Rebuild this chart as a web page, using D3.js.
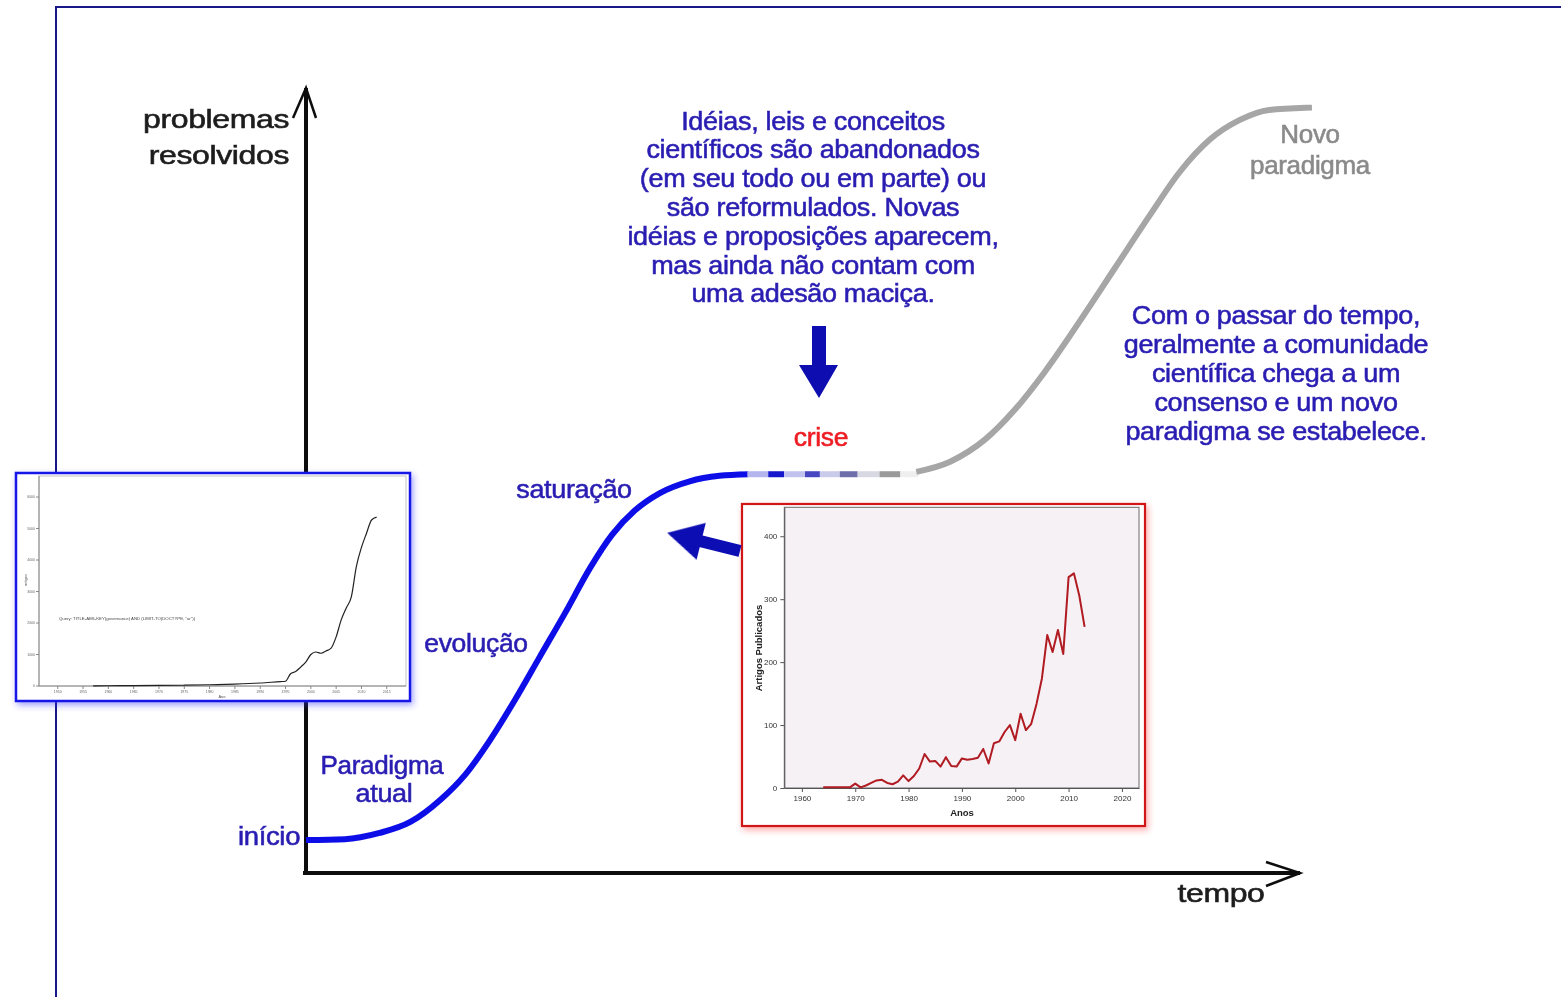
<!DOCTYPE html>
<html><head><meta charset="utf-8">
<script src="https://cdn.jsdelivr.net/npm/d3@7/dist/d3.min.js"></script>
<style>html,body{margin:0;padding:0;background:#fff;overflow:hidden}svg{display:block}text{font-family:"Liberation Sans",Arial,sans-serif}</style>
</head><body>
<script>
// ---------- DATA ----------
// conceptual S-curve (tempo 0-100, problemas resolvidos 0-100)
const paradigmT = [0, 3.9, 7.4, 10.5, 13.5, 16.0, 18.5, 21.0, 23.5, 26.1, 28.6, 30.8, 33.1, 35.6, 38.6, 41.6, 44.5];
const paradigmP = [4.2, 4.3, 5.1, 6.5, 9.3, 12.5, 16.9, 22.0, 27.5, 33.2, 38.9, 43.1, 46.2, 48.4, 49.9, 50.6, 50.8];
const crisisStops = [44.4, 46.5, 48.1, 50.2, 51.7, 53.7, 55.5, 57.7, 59.8, 61.6];
const crisisLevel = 50.8;
const crisisColors = ["#b4b4ee", "#1818cc", "#c2c2ee", "#4646c2", "#cacaea", "#6e6eaa", "#d8d8e2", "#9a9a9a", "#efefef"];
const novoT = [61.4, 64.8, 68.3, 71.3, 74.3, 77.9, 81.4, 84.9, 87.9, 90.9, 93.9, 96.9, 101.2];
const novoP = [51.1, 52.4, 55.2, 59.0, 63.8, 70.4, 77.1, 83.8, 89.3, 93.4, 95.9, 97.2, 97.5];

const axisLabelY = ["problemas", "resolvidos"];
const axisLabelX = "tempo";
const crisisText = ["Idéias, leis e conceitos", "científicos são abandonados", "(em seu todo ou em parte) ou", "são reformulados. Novas", "idéias e proposições aparecem,", "mas ainda não contam com", "uma adesão maciça."];
const consensusText = ["Com o passar do tempo,", "geralmente a comunidade", "científica chega a um", "consenso e um novo", "paradigma se estabelece."];
const novoText = ["Novo", "paradigma"];

// left inset (Scopus query)
const govYears = [1957, 1960, 1965, 1970, 1975, 1980, 1985, 1990, 1994, 1995, 1996, 1997, 1998, 1999, 2000, 2001, 2002, 2003, 2004, 2005, 2006, 2007, 2008, 2009, 2010, 2011, 2012, 2013];
const govCounts = [5, 8, 12, 18, 25, 40, 60, 95, 140, 150, 390, 460, 600, 760, 1000, 1080, 1040, 1110, 1200, 1560, 2100, 2480, 2830, 3800, 4400, 4850, 5270, 5360];
const govXTicks = [1950, 1955, 1960, 1965, 1970, 1975, 1980, 1985, 1990, 1995, 2000, 2005, 2010, 2015];
const govYTicks = [0, 1000, 2000, 3000, 4000, 5000, 6000];
const govQuery = 'Query: TITLE-ABS-KEY(governance) AND (LIMIT-TO(DOCTYPE, "ar"))';

// right inset (Artigos Publicados)
const artYears = [1964, 1965, 1966, 1967, 1968, 1969, 1970, 1971, 1972, 1973, 1974, 1975, 1976, 1977, 1978, 1979, 1980, 1981, 1982, 1983, 1984, 1985, 1986, 1987, 1988, 1989, 1990, 1991, 1992, 1993, 1994, 1995, 1996, 1997, 1998, 1999, 2000, 2001, 2002, 2003, 2004, 2005, 2006, 2007, 2008, 2009, 2010, 2011, 2012, 2013];
const artCounts = [1, 1, 1, 1, 1, 1, 7, 1, 4, 8, 12, 13, 8, 6, 10, 20, 11, 19, 31, 54, 42, 43, 34, 49, 35, 34, 47, 45, 46, 48, 62, 39, 71, 74, 89, 100, 76, 118, 92, 102, 134, 174, 243, 216, 251, 213, 335, 341, 306, 256];
const artXTicks = [1960, 1970, 1980, 1990, 2000, 2010, 2020];
const artYTicks = [0, 100, 200, 300, 400];

// ---------- DRAW ----------
const W = 1561, H = 997;
const svg = d3.select("body").append("svg").attr("width", W).attr("height", H);
const defs = svg.append("defs");
const sh1 = defs.append("filter").attr("id", "shBlue").attr("x", "-10%").attr("y", "-10%").attr("width", "120%").attr("height", "120%");
sh1.append("feDropShadow").attr("dx", 2).attr("dy", 3).attr("stdDeviation", 3).attr("flood-color", "#3030ff").attr("flood-opacity", 0.45);
const sh2 = defs.append("filter").attr("id", "shRed").attr("x", "-10%").attr("y", "-10%").attr("width", "120%").attr("height", "120%");
sh2.append("feDropShadow").attr("dx", 2).attr("dy", 3).attr("stdDeviation", 3).attr("flood-color", "#ff3030").attr("flood-opacity", 0.4);
const soft = defs.append("filter").attr("id", "soft");
soft.append("feGaussianBlur").attr("stdDeviation", 0.5);

// outer frame
svg.append("path").attr("d", "M56,997 V7 H1561").attr("fill", "none").attr("stroke", "#17178a").attr("stroke-width", 2);

const x = d3.scaleLinear().domain([0, 100]).range([306, 1300]);
const y = d3.scaleLinear().domain([0, 100]).range([873, 88]);

const main = svg.append("g").attr("filter", "url(#soft)");
// axes
main.append("line").attr("x1", x(0)).attr("x2", x(0)).attr("y1", y(0) + 2).attr("y2", y(100))
  .attr("stroke", "#111").attr("stroke-width", 4);
main.append("line").attr("x1", x(0) - 3).attr("x2", x(100)).attr("y1", y(0)).attr("y2", y(0))
  .attr("stroke", "#111").attr("stroke-width", 4);
main.append("path").attr("d", `M${x(0) - 13},${y(100) + 30} L${x(0)},${y(100)} L${x(0) + 10},${y(100) + 30}`)
  .attr("fill", "none").attr("stroke", "#111").attr("stroke-width", 2.5);
main.append("path").attr("d", `M${x(100) - 34},${y(0) - 11} L${x(100)},${y(0)} L${x(100) - 34},${y(0) + 13}`)
  .attr("fill", "none").attr("stroke", "#111").attr("stroke-width", 2.5);

const line = d3.line().x(d => x(d[0])).y(d => y(d[1])).curve(d3.curveMonotoneX);
main.append("path").datum(paradigmT.map((t, i) => [t, paradigmP[i]])).attr("d", line)
  .attr("fill", "none").attr("stroke", "#0c0ce8").attr("stroke-width", 6);
crisisColors.forEach((c, i) => {
  main.append("line").attr("x1", x(crisisStops[i])).attr("x2", x(crisisStops[i + 1]))
    .attr("y1", y(crisisLevel)).attr("y2", y(crisisLevel)).attr("stroke", c).attr("stroke-width", 6);
});
main.append("path").datum(novoT.map((t, i) => [t, novoP[i]])).attr("d", line)
  .attr("fill", "none").attr("stroke", "#a6a6a6").attr("stroke-width", 6);

// text helper
function txt(g, s, cx, cy, size, sx, fill, anchor, weight) {
  g.append("text").attr("transform", `translate(${cx},${cy}) scale(${sx},1)`)
    .attr("text-anchor", anchor || "middle").attr("dominant-baseline", "central")
    .attr("font-size", size).attr("font-weight", weight || "normal").attr("fill", fill)
    .attr("stroke", fill).attr("stroke-width", 0.55).attr("letter-spacing", -0.3).text(s);
}
const BLUE = "#2a1eb2";
axisLabelY.forEach((s, i) => txt(main, s, 289, 119 + i * 36, 25, 1.28, "#1c1c1c", "end"));
txt(main, axisLabelX, 1221, 893, 25, 1.28, "#1c1c1c");
crisisText.forEach((s, i) => txt(main, s, 813, 121 + i * 28.8, 25, 1.08, BLUE));
consensusText.forEach((s, i) => txt(main, s, 1276, 315 + i * 29, 25, 1.08, BLUE));
novoText.forEach((s, i) => txt(main, s, 1310, 134 + i * 31, 25, 1.04, "#8a8a8a"));
txt(main, "crise", 821, 437, 25, 1.06, "#ee1c24");
txt(main, "saturação", 574, 489, 25, 1.08, BLUE);
txt(main, "evolução", 476, 643, 25, 1.06, BLUE);
txt(main, "Paradigma", 382, 765, 25, 1.04, BLUE);
txt(main, "atual", 384, 793, 25, 1.08, BLUE);
txt(main, "início", 269, 836, 25, 1.1, BLUE);

// down arrow
const dax = 819;
main.append("path").attr("d", `M${dax - 7},326 H${dax + 7} V365 H${dax + 19} L${dax},398 L${dax - 20},365 H${dax - 7} Z`).attr("fill", "#0c0cb0");

// ---------- left inset ----------
const L = svg.append("g");
L.append("rect").attr("x", 16).attr("y", 473).attr("width", 394).attr("height", 228)
  .attr("fill", "#fff").attr("stroke", "#1616e8").attr("stroke-width", 2.5).attr("filter", "url(#shBlue)");
const lg = L.append("g").attr("filter", "url(#soft)");
const lx = d3.scaleLinear().domain([1946.3, 2018.8]).range([39, 406]);
const ly = d3.scaleLinear().domain([0, 6667]).range([686, 476]);
lg.append("rect").attr("x", 39).attr("y", 476).attr("width", 367).attr("height", 210).attr("fill", "none").attr("stroke", "#c4c4c4").attr("stroke-width", 1);
lg.append("line").attr("x1", 39).attr("x2", 39).attr("y1", 476).attr("y2", 686).attr("stroke", "#888");
lg.append("line").attr("x1", 39).attr("x2", 406).attr("y1", 686).attr("y2", 686).attr("stroke", "#888");
govYTicks.forEach(v => {
  lg.append("line").attr("x1", 36).attr("x2", 39).attr("y1", ly(v)).attr("y2", ly(v)).attr("stroke", "#888");
  lg.append("text").attr("x", 35).attr("y", ly(v)).attr("text-anchor", "end").attr("dominant-baseline", "central").attr("font-size", 3.5).attr("fill", "#666").text(v);
});
govXTicks.forEach(v => {
  lg.append("line").attr("x1", lx(v)).attr("x2", lx(v)).attr("y1", 686).attr("y2", 689).attr("stroke", "#888");
  lg.append("text").attr("x", lx(v)).attr("y", 692).attr("text-anchor", "middle").attr("dominant-baseline", "central").attr("font-size", 3.5).attr("fill", "#666").text(v);
});
lg.append("text").attr("transform", "translate(25,580) rotate(-90)").attr("text-anchor", "middle").attr("dominant-baseline", "central").attr("font-size", 4).attr("fill", "#555").text("artigos");
lg.append("text").attr("x", 222).attr("y", 696).attr("text-anchor", "middle").attr("dominant-baseline", "central").attr("font-size", 4).attr("fill", "#555").text("Ano");
lg.append("text").attr("x", 59).attr("y", 618).attr("dominant-baseline", "central").attr("font-size", 4.3).attr("fill", "#444").text(govQuery);
lg.append("path").datum(govYears.map((yr, i) => [yr, govCounts[i]]))
  .attr("d", d3.line().x(d => lx(d[0])).y(d => ly(d[1])).curve(d3.curveMonotoneX))
  .attr("fill", "none").attr("stroke", "#222").attr("stroke-width", 1.2);

// ---------- right inset ----------
const R = svg.append("g");
R.append("rect").attr("x", 742).attr("y", 504).attr("width", 403).attr("height", 322)
  .attr("fill", "#fff").attr("stroke", "#d01818").attr("stroke-width", 2.2).attr("filter", "url(#shRed)");
const rg = R.append("g").attr("filter", "url(#soft)");
const rx = d3.scaleLinear().domain([1956.7, 2023.2]).range([784.3, 1139]);
const ry = d3.scaleLinear().domain([0, 446]).range([788, 507.3]);
rg.append("rect").attr("x", 784.3).attr("y", 507.3).attr("width", 1139 - 784.3).attr("height", 788 - 507.3)
  .attr("fill", "#f6f1f5").attr("stroke", "#6a6a6a").attr("stroke-width", 1);
rg.append("g").attr("transform", "translate(0,788)")
  .call(d3.axisBottom(rx).tickValues(artXTicks).tickFormat(d3.format("d")).tickSize(4).tickSizeOuter(0))
  .call(g => { g.select(".domain").attr("stroke", "#555"); g.selectAll("line").attr("stroke", "#555"); g.selectAll("text").attr("font-size", 8).attr("fill", "#333").attr("font-family", "Liberation Sans, Arial"); });
rg.append("g").attr("transform", "translate(784.3,0)")
  .call(d3.axisLeft(ry).tickValues(artYTicks).tickSize(4).tickSizeOuter(0))
  .call(g => { g.select(".domain").attr("stroke", "#555"); g.selectAll("line").attr("stroke", "#555"); g.selectAll("text").attr("font-size", 8).attr("fill", "#333").attr("font-family", "Liberation Sans, Arial"); });
rg.append("text").attr("transform", "translate(758,648) rotate(-90)").attr("text-anchor", "middle").attr("dominant-baseline", "central")
  .attr("font-size", 9.5).attr("font-weight", "bold").attr("fill", "#222").text("Artigos Publicados");
rg.append("text").attr("x", 962).attr("y", 812).attr("text-anchor", "middle").attr("dominant-baseline", "central")
  .attr("font-size", 9.5).attr("font-weight", "bold").attr("fill", "#222").text("Anos");
rg.append("path").datum(artYears.map((yr, i) => [yr, artCounts[i]]))
  .attr("d", d3.line().x(d => rx(d[0])).y(d => ry(d[1])))
  .attr("fill", "none").attr("stroke", "#b01a22").attr("stroke-width", 2).attr("stroke-linejoin", "round");

// big arrow from right inset toward curve
const ag = svg.append("g").attr("transform", "translate(740,551) rotate(194)").attr("filter", "url(#soft)");
ag.append("path").attr("d", "M0,-6 H40 V-19 L75,0 L40,19 V6 H0 Z").attr("fill", "#0e0eb4");
</script>
</body></html>
